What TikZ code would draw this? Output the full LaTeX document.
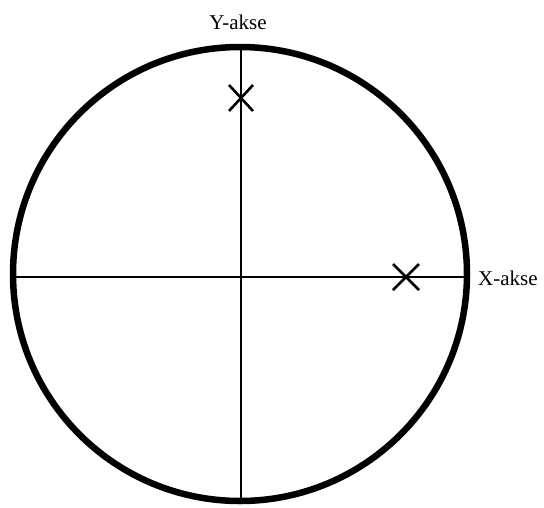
\documentclass[tikz,border=0pt]{standalone}
\usepackage{fontspec}
\setmainfont{Liberation Serif}
\usetikzlibrary{calc}
\begin{document}
\begin{tikzpicture}[x=1pt,y=-1pt,
  axis/.style={line width=2pt},
  rim/.style={line width=6.5pt},
  crossmark/.style={line width=2.6pt},
  lbl/.style={font=\fontsize{21}{25}\selectfont, inner sep=0pt}]
\useasboundingbox[fill=white] (0,0) rectangle (544,507);
\coordinate (c) at (240,274);
\draw[rim] (c) circle[radius=227];
\coordinate (top) at (241,47);
\coordinate (bot) at (241,501);
\coordinate (left) at (13,277);
\coordinate (right) at (466,277);
\draw[axis] (top) -- (bot);
\draw[axis] (left) -- (right);
\node[lbl] (ylab) at (238,22) {Y-akse};
\node[lbl, anchor=west] (xlab) at (478,278) {X-akse};
\coordinate (p1) at (241,98);
\coordinate (p2) at (406,277);
\draw[crossmark] ($(p1)+(-12,-13)$) -- ($(p1)+(12,13)$);
\draw[crossmark] ($(p1)+(-12,13)$) -- ($(p1)+(12,-13)$);
\draw[crossmark] ($(p2)+(-13,-13)$) -- ($(p2)+(13,13)$);
\draw[crossmark] ($(p2)+(-13,13)$) -- ($(p2)+(13,-13)$);
\end{tikzpicture}
\end{document}
